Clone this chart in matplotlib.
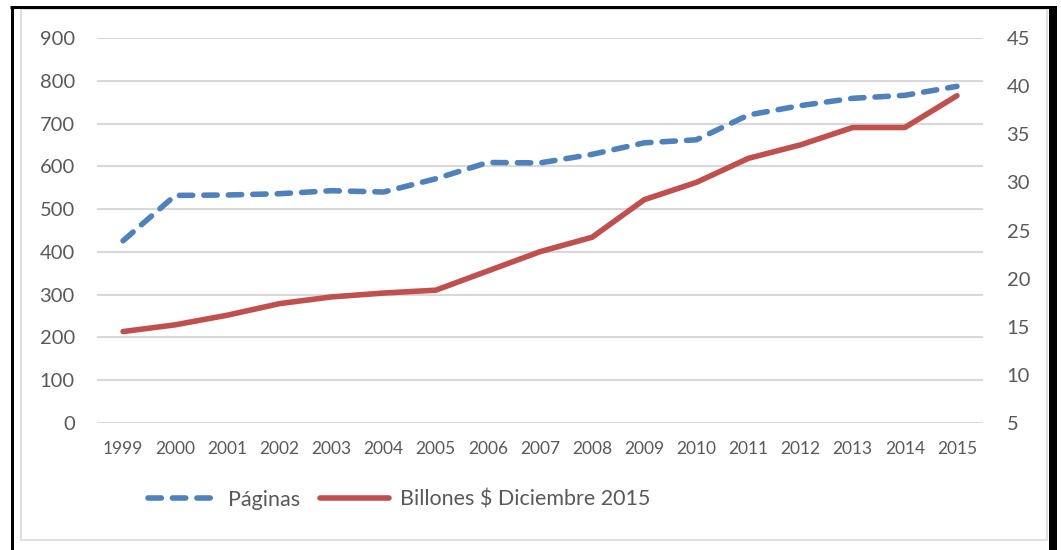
import matplotlib.pyplot as plt
from matplotlib.lines import Line2D
from matplotlib.patches import Rectangle

# datos
years = [str(y) for y in range(1999, 2016)]
paginas = [426, 532, 533, 536, 543, 540, 571, 609, 608, 628, 655, 662, 720, 742, 759, 766, 787]
billones = [14.5, 15.2, 16.2, 17.4, 18.1, 18.5, 18.8, 20.8, 22.8, 24.3, 28.2, 30.0,
            32.5, 33.9, 35.7, 35.7, 39.0]

W, H = 1061, 550
plt.rcParams['font.family'] = ['Lato', 'DejaVu Sans']
txt = '#595959'
blue = '#4f81bd'
red = '#c0504d'

fig = plt.figure(figsize=(W / 100, H / 100), dpi=100)
ax = fig.add_axes([97 / W, 1 - 423 / H, (983 - 97) / W, (423 - 38) / H])
ax2 = ax.twinx()

x = range(len(years))
l1, = ax.plot(x, paginas, color=blue, lw=4.0, dash_capstyle='round',
              solid_capstyle='round', label='Páginas', zorder=3)
l1.set_dashes((2.4, 2.0))
l2, = ax2.plot(x, billones, color=red, lw=4.0, solid_capstyle='round',
               solid_joinstyle='round', label='Billones $ Diciembre 2015', zorder=3)

ax.set_xlim(-0.5, len(years) - 0.5)
ax.set_ylim(0, 900)
ax.set_yticks(range(0, 901, 100))
ax2.set_ylim(5, 45)
ax2.set_yticks(range(5, 46, 5))
ax.set_xticks(list(x))
ax.set_xticklabels(years)

ax.grid(axis='y', color='#d9d9d9', lw=1.5)
ax.set_axisbelow(True)
for a in (ax, ax2):
    for s in a.spines.values():
        s.set_visible(False)
    a.tick_params(length=0, colors=txt)
ax.tick_params(axis='y', labelsize=14.5, pad=16)
ax2.tick_params(axis='y', labelsize=14.5, pad=17)
ax.tick_params(axis='x', labelsize=12.5, pad=13)

leg = fig.legend(handles=[l1, l2], loc='center', bbox_to_anchor=(399 / W, 1 - 500 / H),
                 ncol=2, frameon=False, fontsize=15.5, labelcolor=txt,
                 handlelength=3.2, columnspacing=0.95, handletextpad=0.5)

# marco del grafico
def px_line(xs, ys, lw, color):
    fig.add_artist(Line2D([v / W for v in xs], [1 - v / H for v in ys],
                          transform=fig.transFigure, lw=lw * 0.72, color=color,
                          solid_capstyle='butt'))

fig.add_artist(Rectangle((21 / W, 1 - 540 / H), (1047 - 21) / W, (540 - 9) / H,
                         transform=fig.transFigure, fill=False, ec='#d9d9d9', lw=1.2))
px_line([11.5, 11.5], [5.5, 550], 3, 'black')
px_line([10, 1050], [7, 7], 3, 'black')
px_line([1052.5, 1052.5], [5.5, 550], 8, 'black')

fig.savefig('out.png', dpi=100)
